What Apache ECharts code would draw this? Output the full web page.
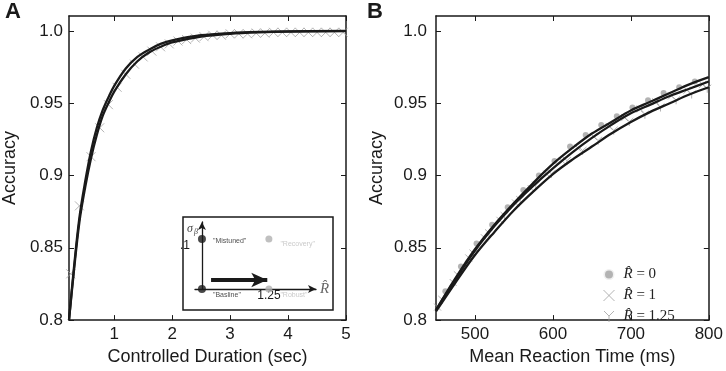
<!DOCTYPE html>
<html>
<head>
<meta charset="utf-8">
<script src="https://cdn.jsdelivr.net/npm/echarts@6/dist/echarts.min.js"></script>
<style>
  html, body { margin: 0; padding: 0; background: #fff; }
  #main { width: 726px; height: 371px; }
</style>
</head>
<body>
<div id="main"></div>
<script>
// ---- panel A : accuracy vs controlled duration ----
var durA   = [0.22, 0.3, 0.4, 0.5, 0.6, 0.7, 0.8, 0.9, 1.0, 1.2, 1.4, 1.6, 1.8, 2.0, 2.5, 3.0, 3.5, 4.0, 5.0];
var accA1  = [0.800, 0.834, 0.871, 0.896, 0.917, 0.933, 0.945, 0.954, 0.962, 0.974, 0.982, 0.987, 0.991, 0.9935, 0.997, 0.9985, 0.9993, 0.9997, 1.0];
var accA2  = [0.800, 0.832, 0.868, 0.892, 0.912, 0.928, 0.941, 0.950, 0.958, 0.970, 0.979, 0.985, 0.989, 0.992, 0.996, 0.998, 0.999, 0.9995, 0.9998];
var markDur = [0.25, 0.4, 0.6, 0.75, 0.9, 1.05, 1.2, 1.35, 1.5, 1.65, 1.8, 1.95, 2.1, 2.25, 2.4, 2.55, 2.7, 2.85,
               3.0, 3.15, 3.3, 3.45, 3.6, 3.75, 3.9, 4.05, 4.2, 4.35, 4.5, 4.65, 4.8, 4.95];
var markAcc = [0.832, 0.879, 0.913, 0.933, 0.949, 0.961, 0.970, 0.977, 0.982, 0.986, 0.989, 0.991, 0.993, 0.994,
               0.995, 0.996, 0.997, 0.997, 0.998, 0.998, 0.998, 0.9985, 0.9985, 0.999, 0.999, 0.999, 0.999, 0.999, 0.999, 0.999, 0.999, 0.999];

// ---- panel B : accuracy vs mean reaction time ----
var rHat   = ['0', '1', '1.25'];
var rtB    = [450, 475, 500, 525, 550, 575, 600, 625, 650, 675, 700, 725, 750, 775, 800];
var accB0  = [0.807, 0.829, 0.849, 0.866, 0.881, 0.895, 0.908, 0.919, 0.929, 0.937, 0.945, 0.951, 0.957, 0.963, 0.968];
var accB1  = [0.807, 0.828, 0.848, 0.865, 0.880, 0.893, 0.905, 0.916, 0.926, 0.935, 0.943, 0.949, 0.955, 0.960, 0.965];
var accB125 = [0.806, 0.826, 0.845, 0.861, 0.876, 0.889, 0.901, 0.911, 0.920, 0.929, 0.937, 0.944, 0.950, 0.956, 0.961];
var dotRt  = [462, 482, 502, 522, 542, 562, 582, 602, 622, 642, 662, 682, 702, 722, 742, 762, 782];
var dotAcc = [0.820, 0.837, 0.853, 0.866, 0.878, 0.890, 0.900, 0.910, 0.920, 0.928, 0.935, 0.941, 0.947, 0.952, 0.957, 0.961, 0.965];
var crossRt  = [452, 472, 492, 512, 532, 552, 572, 592, 612, 632, 652, 672, 692, 712, 732, 752, 772, 792];
var crossAcc = [0.809, 0.826, 0.843, 0.857, 0.869, 0.881, 0.891, 0.901, 0.910, 0.919, 0.927, 0.934, 0.940, 0.946, 0.951, 0.955, 0.959, 0.963];
var triRt  = [458, 478, 498, 518, 538, 558, 578, 598, 618, 638, 658, 678, 698, 718, 738, 758, 778, 798];
var triAcc = [0.814, 0.831, 0.846, 0.860, 0.872, 0.883, 0.893, 0.901, 0.910, 0.917, 0.924, 0.931, 0.937, 0.942, 0.947, 0.952, 0.956, 0.960];

// ---- ticks ----
var accTicks = [0.8, 0.85, 0.9, 0.95, 1.0];
var accTickLabels = ['0.8', '0.85', '0.9', '0.95', '1.0'];
var durTicks = [1, 2, 3, 4, 5];
var rtTicks = [500, 600, 700, 800];

// ---- inset : parameter space ----
var insetR = [0, 1.25, 0, 1.25];
var insetSigma = [0.1, 0.1, 0, 0];
var insetNames = ['"Mistuned"', '"Recovery"', '"Basline"', '"Robust"'];
var shiftArrow = [[0.17, 0.018], [1.22, 0.018]];

var FONT = "'Liberation Sans', Arial, sans-serif";
var SERIF = "'Liberation Serif', 'DejaVu Serif', serif";
var INK = '#1a1a1a';
var GRAY = '#a0a0a0';
var xPath = 'path://M0,0L10,10M10,0L0,10';
var yPath = 'path://M0,0L5,5L10,0M5,5L5,11';

function zip(a, b) { return a.map(function (v, i) { return [v, b[i]]; }); }
function accLabel(v) {
    for (var i = 0; i < accTicks.length; i++) if (Math.abs(accTicks[i] - v) < 1e-9) return accTickLabels[i];
    return '';
}

var lineAx = { show: true, onZero: false, lineStyle: { color: INK, width: 1.5 } };
function tick(vals) { return { show: true, inside: true, length: 5, customValues: vals, lineStyle: { color: INK, width: 1 } }; }

function xAxes(grid, min, max, vals, name) {
    return [{
        gridIndex: grid, type: 'value', min: min, max: max, position: 'bottom',
        axisLine: lineAx, axisTick: tick(vals), splitLine: { show: false },
        axisLabel: { customValues: vals, fontSize: 17, color: INK, fontFamily: FONT, margin: 6 },
        name: name, nameLocation: 'middle', nameGap: 24,
        nameTextStyle: { fontSize: 18, color: INK, fontFamily: FONT }
    }, {
        gridIndex: grid, type: 'value', min: min, max: max, position: 'top',
        axisLine: lineAx, axisTick: tick(vals), splitLine: { show: false }, axisLabel: { show: false }
    }];
}
function yAxes(grid, margin) {
    return [{
        gridIndex: grid, type: 'value', min: 0.8, max: 1.0103, position: 'left',
        axisLine: lineAx, axisTick: tick(accTicks), splitLine: { show: false },
        axisLabel: { customValues: accTicks, formatter: accLabel, fontSize: 17, color: INK, fontFamily: FONT, margin: margin },
        name: 'Accuracy', nameLocation: 'middle', nameGap: 50,
        nameTextStyle: { fontSize: 18, color: INK, fontFamily: FONT }
    }, {
        gridIndex: grid, type: 'value', min: 0.8, max: 1.0103, position: 'right',
        axisLine: lineAx, axisTick: tick(accTicks), splitLine: { show: false }, axisLabel: { show: false }
    }];
}

function curve(xi, x, y) {
    return { type: 'line', xAxisIndex: xi, yAxisIndex: xi, data: zip(x, y), showSymbol: false,
             smooth: 0.35, lineStyle: { color: INK, width: 2.3 }, z: 4, silent: true };
}
function marks(xi, name, x, y, symbol, size, filled) {
    return { type: 'scatter', name: name, xAxisIndex: xi, yAxisIndex: xi, data: zip(x, y),
             symbol: symbol, symbolSize: size, z: 2, silent: true,
             itemStyle: filled ? { color: GRAY } : { color: 'rgba(0,0,0,0)', borderColor: GRAY, borderWidth: 1 } };
}

var insetData = insetR.map(function (r, i) {
    var black = r === 0;
    return {
        value: [r, insetSigma[i]],
        symbolSize: black ? 8 : 7,
        itemStyle: { color: black ? INK : '#b0b0b0' },
        label: { show: true, position: 'right', distance: black ? 7 : 8,
                 offset: [0, insetSigma[i] === 0 ? 6 : (black ? 2 : 5)],
                 formatter: insetNames[i], fontSize: 7, fontFamily: FONT, color: black ? '#222' : '#bbb' }
    };
});

var dom = document.getElementById('main');
var myChart = echarts.init(dom, null, { renderer: 'canvas' });
var option = {
    animation: false,
    title: [
        { text: 'A', left: 5, top: 1, padding: 0, textStyle: { fontSize: 22, fontWeight: 'bold', color: INK, fontFamily: FONT } },
        { text: 'B', left: 367, top: 1, padding: 0, textStyle: { fontSize: 22, fontWeight: 'bold', color: INK, fontFamily: FONT } }
    ],
    grid: [
        { left: 69, top: 16, width: 277, height: 307 },
        { left: 436, top: 16, width: 277, height: 307 },
        { left: 195, top: 222, width: 121, height: 67 }
    ],
    xAxis: [].concat(
        xAxes(0, 0.22, 5, durTicks, 'Controlled Duration (sec)'),
        xAxes(1, 450, 800, rtTicks, 'Mean Reaction Time (ms)'),
        [{
            gridIndex: 2, type: 'value', min: -0.13, max: 2.13,
            axisLine: { show: true, symbol: ['none', 'arrow'], symbolSize: [6, 8], lineStyle: { color: INK, width: 1.3 } },
            axisTick: { show: false }, splitLine: { show: false },
            axisLabel: { customValues: [1.25], fontSize: 12, color: INK, fontFamily: FONT, margin: 1 },
            name: 'R\u0302', nameLocation: 'end', nameGap: 4,
            nameTextStyle: { fontFamily: SERIF, fontStyle: 'italic', fontSize: 15, color: '#666', verticalAlign: 'middle' }
        }]
    ),
    yAxis: [].concat(
        yAxes(0, 6),
        yAxes(1, 9),
        [{
            gridIndex: 2, type: 'value', min: 0, max: 0.134,
            axisLine: { show: true, onZero: true, symbol: ['none', 'arrow'], symbolSize: [6, 8], lineStyle: { color: INK, width: 1.3 } },
            axisTick: { show: false }, splitLine: { show: false },
            axisLabel: { customValues: [0.1], formatter: function () { return '.1'; }, fontSize: 12, color: INK, fontFamily: FONT,
                         margin: 5, verticalAlign: 'top', padding: [1, 0, 0, 0] },
            name: '{s|σ}{b|β}', nameLocation: 'end', nameGap: 0,
            nameTextStyle: { align: 'right', verticalAlign: 'top', padding: [0, 4, 0, 0],
                rich: { s: { fontFamily: SERIF, fontStyle: 'italic', fontSize: 12, color: '#444' },
                        b: { fontFamily: SERIF, fontStyle: 'italic', fontSize: 8, color: '#444', padding: [6, 0, 0, 1] } } }
        }]
    ),
    legend: {
        orient: 'vertical', left: 597, top: 262, itemGap: 6, itemWidth: 11, itemHeight: 11,
        data: [
            { name: 'R = ' + rHat[0], icon: 'circle', itemStyle: { color: GRAY, borderColor: '#fff', borderWidth: 3 } },
            { name: 'R = ' + rHat[1], icon: xPath, itemStyle: { color: 'rgba(0,0,0,0)', borderColor: GRAY, borderWidth: 1 } },
            { name: 'R = ' + rHat[2], icon: yPath, itemStyle: { color: 'rgba(0,0,0,0)', borderColor: GRAY, borderWidth: 1 } }
        ],
        formatter: function (name) { return '{r|R\u0302}{t| = ' + name.split('= ')[1] + '}'; },
        textStyle: { rich: {
            r: { fontFamily: SERIF, fontStyle: 'italic', fontSize: 15, color: '#222', padding: [0, 0, 0, 4] },
            t: { fontFamily: SERIF, fontSize: 15, color: '#222' } } }
    },
    graphic: [
        { type: 'rect', shape: { x: 183, y: 217, width: 150, height: 93 }, z: 0,
          style: { fill: '#fff', stroke: INK, lineWidth: 1.5 } }
    ],
    series: [
        marks(0, 'A', markDur, markAcc, xPath, 9, false),
        curve(0, durA, accA1),
        curve(0, durA, accA2),

        marks(2, 'R = ' + rHat[0], dotRt, dotAcc, 'circle', 6, true),
        marks(2, 'R = ' + rHat[1], crossRt, crossAcc, xPath, 7, false),
        marks(2, 'R = ' + rHat[2], triRt, triAcc, yPath, 8, false),
        curve(2, rtB, accB0),
        curve(2, rtB, accB1),
        curve(2, rtB, accB125),

        {
            type: 'scatter', xAxisIndex: 4, yAxisIndex: 4, data: insetData, z: 5, silent: true,
            markLine: {
                silent: true, symbol: ['none', 'arrow'], symbolSize: [11, 16],
                label: { show: false },
                lineStyle: { type: 'solid', color: INK, width: 4 },
                data: [[{ coord: shiftArrow[0] }, { coord: shiftArrow[1] }]]
            }
        }
    ]
};
myChart.setOption(option, true);
</script>
</body>
</html>
